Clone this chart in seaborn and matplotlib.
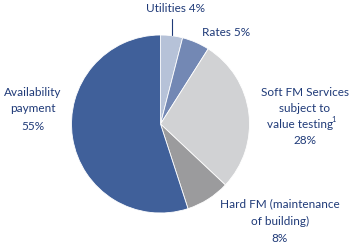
import matplotlib
matplotlib.use("Agg")
import matplotlib.pyplot as plt
import seaborn as sns

categories = ["Utilities", "Rates", "Soft FM Services subject to value testing", "Hard FM (maintenance of building)", "Availability payment"]
values = [4, 5, 28, 8, 55]
colors = ["#b6c2d8", "#7388b4", "#d1d2d4", "#9b9b9d", "#40609a"]

sns.set_theme(style="white")
plt.rcParams['font.family'] = ['Lato', 'DejaVu Sans']

W, H = 356, 246
fig = plt.figure(figsize=(W/100, H/100), dpi=100)
ax = fig.add_axes([0, 0, 1, 1])

cx, cy, r = 160.5, H - 124, 89
ax.pie(values, colors=colors, startangle=90, counterclock=False,
       center=(cx, cy), radius=r, frame=True,
       wedgeprops=dict(edgecolor="white", linewidth=0.6))
ax.set_xlim(0, W)
ax.set_ylim(0, H)
ax.set_aspect('equal')
ax.axis('off')

tc = "#1f3a78"
fs = 8.5
def T(x, y, s, **kw):
    ax.text(x, H - y, s, color=tc, fontsize=fs, ha="center", va="center", **kw)

T(175, 9, "Utilities 4%")
ax.plot([172, 172], [H - 19, H - 35], color=tc, lw=0.8)
T(226, 32, "Rates 5%")
T(305, 92, "Soft FM Services")
T(305, 108, "subject to")
T(300, 124, "value testing")
ax.text(334, H - 119, "1", color=tc, fontsize=5.5, ha="center", va="center")
T(305, 141, "28%")
T(280, 204, "Hard FM (maintenance")
T(280, 221, "of building)")
T(280, 238, "8%")
T(33, 92, "Availability")
T(33, 109, "payment")
T(33, 126, "55%")

fig.savefig("out.png", dpi=100)
